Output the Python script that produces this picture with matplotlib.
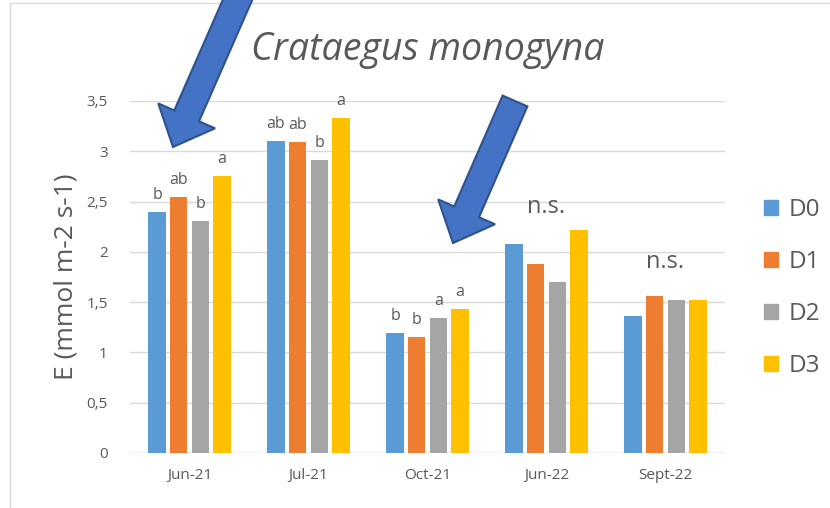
import numpy as np
import matplotlib
matplotlib.use("Agg")
import matplotlib.pyplot as plt
import matplotlib.transforms as mtransforms
from matplotlib.patches import FancyArrow
from matplotlib.lines import Line2D

plt.rcParams["font.family"] = ["Open Sans", "DejaVu Sans"]

months = ["Jun-21", "Jul-21", "Oct-21", "Jun-22", "Sept-22"]
series = ["D0", "D1", "D2", "D3"]
d0 = [2.40, 3.10, 1.19, 2.08, 1.36]
d1 = [2.55, 3.09, 1.15, 1.88, 1.56]
d2 = [2.31, 2.91, 1.34, 1.70, 1.52]
d3 = [2.75, 3.33, 1.43, 2.22, 1.52]
letters = [
    ["b", "ab", "b", "a"],
    ["ab", "ab", "b", "a"],
    ["b", "b", "a", "a"],
    None,
    None,
]
ns_y = [None, None, None, 2.45, 1.90]
yticks = [0, 0.5, 1, 1.5, 2, 2.5, 3, 3.5]
ytick_labels = ["0", "0,5", "1", "1,5", "2", "2,5", "3", "3,5"]

colors = ["#5B9BD5", "#ED7D31", "#A5A5A5", "#FFC000"]
grey = "#595959"

W, H = 830, 508
fig = plt.figure(figsize=(W / 100, H / 100), dpi=100)
ax = fig.add_axes([130 / W, 55 / H, 595 / W, 352 / H])

vals = [d0, d1, d2, d3]
x = np.arange(len(months))
step = 0.182
width = 0.145
for i, (name, v) in enumerate(zip(series, vals)):
    pos = x + (i - 1.5) * step
    ax.bar(pos, v, width, color=colors[i], label=name, zorder=2)
    for j, p in enumerate(pos):
        if letters[j] is not None:
            ax.annotate(letters[j][i], (p, v[j]), xytext=(0, 17),
                        textcoords="offset pixels", ha="center", va="center",
                        fontsize=11.5, color=grey)

for j, yv in enumerate(ns_y):
    if yv is not None:
        ax.text(x[j], yv, "n.s.", ha="center", va="center", fontsize=17,
                color=grey)

ax.set_xlim(-0.5, len(months) - 0.5)
ax.set_ylim(0, 3.5)
ax.set_yticks(yticks)
ax.set_yticklabels(ytick_labels)
ax.set_xticks(x)
ax.set_xticklabels(months)
ax.tick_params(axis="both", length=0, labelsize=11, labelcolor=grey)
ax.tick_params(axis="y", pad=16)
ax.tick_params(axis="x", pad=11)
ax.grid(axis="y", color="#D9D9D9", lw=1, zorder=0)
for s in ax.spines.values():
    s.set_visible(False)
ax.axhline(0, color="#D9D9D9", lw=1, zorder=1)

ax.set_ylabel("E (mmol m-2 s-1)", fontsize=19, color=grey, labelpad=6)
fig.text(428 / W, 1 - 50 / H, "Crataegus monogyna", ha="center",
         va="center", fontsize=27, style="italic", color=grey)

handles = [plt.Rectangle((0, 0), 1, 1, color=c) for c in colors]
fig.legend(handles, series, loc="center left",
           bbox_to_anchor=(742 / W, 1 - 288 / H), frameon=False,
           fontsize=17.5, labelcolor=grey, handlelength=0.6, handleheight=0.6,
           labelspacing=1.15, handletextpad=0.4)

# image-pixel coordinates (y down)
px = mtransforms.Affine2D().scale(1 / W, -1 / H).translate(0, 1) + fig.transFigure

fig.add_artist(Line2D([10, 830], [3, 3], transform=px, color="#D9D9D9", lw=1))
fig.add_artist(Line2D([10, 10], [3, 508], transform=px, color="#D9D9D9", lw=1))

for (tx, ty), (hx, hy) in [((241, -8), (173, 147)), ((515, 101), (453, 243))]:
    arr = FancyArrow(tx, ty, hx - tx, hy - ty, width=27, head_width=62,
                     head_length=34, length_includes_head=True,
                     transform=px, facecolor="#4472C4", edgecolor="#2F528F",
                     lw=1.5, zorder=10)
    fig.add_artist(arr)

fig.savefig("out.png", dpi=100)
